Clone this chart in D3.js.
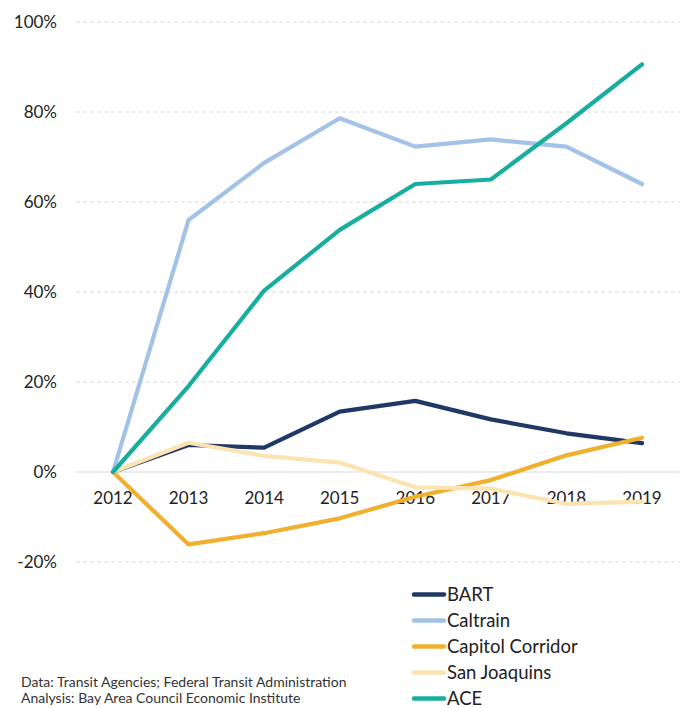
<!DOCTYPE html>
<html lang="en">
<head>
<meta charset="UTF-8">
<title>Transit ridership change since 2012</title>
<script src="https://d3js.org/d3.v7.min.js"></script>
<style>
  body { margin: 0; background: #fff; }
  text { font-family: Lato, "Open Sans", sans-serif; fill: #222; }
  .tick-label { font-size: 17px; }
  .legend-label { font-size: 18.5px; }
  .source { font-size: 14px; fill: #333; }
</style>
</head>
<body>
<svg id="chart" width="686" height="708"></svg>
<script>
// years on the x axis
const years = ["2012", "2013", "2014", "2015", "2016", "2017", "2018", "2019"];

// change in ridership vs 2012, in percent
const bart = [0, 6.0, 5.4, 13.4, 15.8, 11.7, 8.6, 6.4];
const caltrain = [0, 56.0, 68.7, 78.6, 72.3, 73.9, 72.3, 64.0];
const capitolCorridor = [0, -16.1, -13.6, -10.3, -5.5, -1.8, 3.7, 7.6];
const sanJoaquins = [0, 6.5, 3.6, 2.1, -3.4, -3.7, -7.1, -6.6];
const ace = [0, 19.1, 40.3, 53.8, 64.0, 65.0, 77.5, 90.6];

const seriesNames = ["BART", "Caltrain", "Capitol Corridor", "San Joaquins", "ACE"];
const yTicks = [-20, 0, 20, 40, 60, 80, 100];
const sourceLines = [
  "Data: Transit Agencies; Federal Transit Administration",
  "Analysis: Bay Area Council Economic Institute"
];

const colors = ["#203864", "#a4c2e8", "#f0b02f", "#fce3b2", "#18ae9f"];
const series = [bart, caltrain, capitolCorridor, sanJoaquins, ace].map((v, i) => ({
  name: seriesNames[i], values: v, color: colors[i]
}));

const svg = d3.select("#chart");

const x = d3.scalePoint()
  .domain(years)
  .range([113, 642]);

const y = d3.scaleLinear()
  .domain([-20, 100])
  .range([562, 22]);

// grid lines
svg.selectAll(".grid")
  .data(yTicks)
  .enter().append("line")
  .attr("x1", 76)
  .attr("x2", 680)
  .attr("y1", d => y(d))
  .attr("y2", d => y(d))
  .attr("stroke", "#d9d9d9")
  .attr("stroke-width", 1)
  .attr("stroke-dasharray", d => d === 0 ? null : "4,3");

// y tick labels
svg.selectAll(".ylab")
  .data(yTicks)
  .enter().append("text")
  .attr("class", "tick-label")
  .attr("x", 57)
  .attr("y", d => y(d))
  .attr("dy", "0.35em")
  .attr("text-anchor", "end")
  .text(d => d + "%");

// x tick labels
svg.selectAll(".xlab")
  .data(years)
  .enter().append("text")
  .attr("class", "tick-label")
  .attr("x", d => x(d))
  .attr("y", 498)
  .attr("dy", "0.35em")
  .attr("text-anchor", "middle")
  .text(d => d);

const line = d3.line()
  .x((d, i) => x(years[i]))
  .y(d => y(d));

svg.selectAll(".series")
  .data(series)
  .enter().append("path")
  .attr("d", d => line(d.values))
  .attr("fill", "none")
  .attr("stroke", d => d.color)
  .attr("stroke-width", 4.2)
  .attr("stroke-linejoin", "round")
  .attr("stroke-linecap", "round");

// legend
const legend = svg.selectAll(".legend")
  .data(series)
  .enter().append("g")
  .attr("transform", (d, i) => `translate(0, ${594.5 + i * 26})`);

legend.append("line")
  .attr("x1", 414)
  .attr("x2", 444)
  .attr("stroke", d => d.color)
  .attr("stroke-width", 4.5)
  .attr("stroke-linecap", "round");

legend.append("text")
  .attr("class", "legend-label")
  .attr("x", 447)
  .attr("dy", "0.35em")
  .text(d => d.name);

// source note
svg.selectAll(".source")
  .data(sourceLines)
  .enter().append("text")
  .attr("class", "source")
  .attr("x", 21)
  .attr("y", (d, i) => 682 + i * 16)
  .attr("dy", "0.35em")
  .text(d => d);
</script>
</body>
</html>
